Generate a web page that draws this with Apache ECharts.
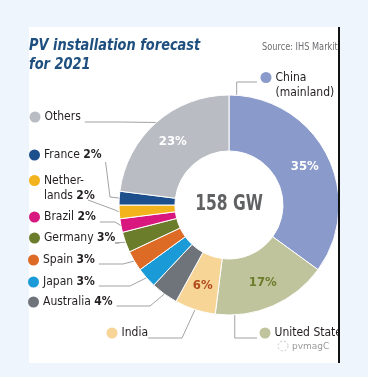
<!DOCTYPE html>
<html><head><meta charset="utf-8">
<script src="https://cdn.jsdelivr.net/npm/echarts@6/dist/echarts.min.js"></script>
<style>html,body{margin:0;padding:0;background:#eef5fd;}#c{width:368px;height:377px;}</style>
</head><body><div id="c"></div>
<script>
// ---- data ----
const categories = ['China (mainland)', 'United States', 'India', 'Australia', 'Japan', 'Spain', 'Germany', 'Brazil', 'Netherlands', 'France', 'Others'];
const shares = [35, 17, 6, 4, 3, 3, 3, 2, 2, 2, 23];
const labelNames = ['China\n(mainland)', 'United States', 'India', 'Australia', 'Japan', 'Spain', 'Germany', 'Brazil', 'Nether-\nlands', 'France', 'Others'];
const pctOutside = [false, false, false, true, true, true, true, true, true, true, false];
const pctInside = [true, true, true, false, false, false, false, false, false, false, true];
const totalText = '158 GW';
const titleText = 'PV installation forecast\nfor 2021';
const sourceText = 'Source: IHS Markit';

// ---- styles / layout ----
const colors = ['#8a9bcb', '#c0c49c', '#f7d596', '#6f747a', '#1a9bd8', '#de6b25', '#6b7c2b', '#d8187e', '#f2b31c', '#1c4f8c', '#b9bcc3'];
const insideColors = ['#ffffff', '#6b7c2b', '#b24a1d', '', '', '', '', '', '', '', '#ffffff'];
const FONT = "'DejaVu Sans Condensed','Liberation Sans Narrow',sans-serif";
const CX = 229, CY = 205, R_IN = 54, R_OUT = 110;
const total = shares.reduce((a, b) => a + b, 0);
function outerPoint(deg) { const a = deg * Math.PI / 180; return [CX + R_OUT * Math.sin(a), CY - R_OUT * Math.cos(a)]; }
function midDeg(i) { let s = 0; for (let k = 0; k < i; k++) s += shares[k]; return (s + shares[i] / 2) / total * 360; }
const spots = [
  {x: 260.5, y: 85}, {x: 259.5, y: 333}, {x: 106.5, y: 333},
  {x: 28, y: 302}, {x: 28, y: 282}, {x: 28, y: 260}, {x: 29, y: 238},
  {x: 29, y: 217}, {x: 29, y: 188}, {x: 29, y: 155}, {x: 29.5, y: 117}
];
function route(i, labelRight) {
  const S = outerPoint(midDeg(i));
  switch (i) {
    case 0: { const P = outerPoint(4); return [P, [P[0], 82], [257, 82]]; }
    case 1: { const P = outerPoint(177); return [P, [P[0], 338], [257, 338]]; }
    case 2: return [S, [182, 338], [148, 338]];
    case 3: return [S, [150, 306], [labelRight, 306]];
    case 4: return [S, [130, 286], [labelRight, 286]];
    case 5: return [S, [123, 264], [labelRight, 264]];
    case 6: return [S, [115, 243], [labelRight, 243]];
    case 7: return [S, [115, 222], [labelRight, 222]];
    case 8: return [S, [115, 210], [labelRight, 200]];
    case 9: return [S, [110, 197], [labelRight, 162]];
    default: return [S, [120, 122], [labelRight, 122]];
  }
}
function outsideText(i) {
  const lines = labelNames[i].split('\n');
  let out = '{dot|}{g|}{n|' + lines[0] + (lines.length === 1 && pctOutside[i] ? ' ' : '') + '}';
  if (lines.length === 1 && pctOutside[i]) out += '{p|' + shares[i] + '%}';
  if (lines.length > 1) {
    out += '\n{ind|}{n|' + lines[1] + (pctOutside[i] ? ' ' : '') + '}';
    if (pctOutside[i]) out += '{p|' + shares[i] + '%}';
  }
  return out;
}

const outerData = categories.map((c, i) => ({
  name: c, value: shares[i],
  label: {
    formatter: outsideText(i),
    rich: {
      dot: {width: 11, height: 11, borderRadius: 5.5, backgroundColor: colors[i]},
      g: {width: 4},
      ind: {width: 15},
      n: {fontFamily: FONT, fontSize: 12, color: '#231f20', lineHeight: 15},
      p: {fontFamily: FONT, fontSize: 12, fontWeight: 'bold', color: '#231f20', lineHeight: 15}
    }
  }
}));
const innerData = categories.map((c, i) => ({
  name: c, value: shares[i],
  itemStyle: {color: colors[i]},
  label: {show: pctInside[i], color: insideColors[i] || '#fff'}
}));

const chart = echarts.init(document.getElementById('c'), null, {renderer: 'canvas'});
chart.setOption({
  animation: false,
  backgroundColor: '#eef5fd',
  graphic: [
    {type: 'rect', shape: {x: 29, y: 27, width: 309, height: 336}, style: {fill: '#ffffff'}, z: -10, silent: true},
    {type: 'rect', shape: {x: 340, y: 20, width: 28, height: 350}, style: {fill: '#eef5fd'}, z: 10, silent: true},
    {type: 'rect', shape: {x: 338, y: 27, width: 2, height: 336}, style: {fill: '#111111'}, z: 11, silent: true},
    {type: 'text', x: 29, y: 36, scaleX: 0.9, style: {text: titleText, fontFamily: FONT, fontSize: 16, fontWeight: 'bold', fontStyle: 'italic', fill: '#1e4f7f', lineHeight: 19}},
    {type: 'text', x: 262, y: 47, scaleX: 0.87, style: {text: sourceText, fontFamily: FONT, fontSize: 10.5, fill: '#6d6e71', verticalAlign: 'middle'}},
    {type: 'text', x: CX, y: CY, scaleX: 0.74, style: {text: totalText, fontFamily: "'DejaVu Sans',sans-serif", fontSize: 21, fontWeight: 'bold', fill: '#606163', align: 'center', verticalAlign: 'middle'}},
    {type: 'circle', shape: {cx: 283, cy: 346, r: 5}, style: {fill: 'none', stroke: '#c8c8c8', lineWidth: 1, lineDash: [2, 2]}},
    {type: 'text', x: 292, y: 347, style: {text: 'pvmagC', fontFamily: 'DejaVu Sans', fontSize: 9, fill: '#9a9a9a', verticalAlign: 'middle'}}
  ],
  series: [
    {
      type: 'pie', center: [CX, CY], radius: [R_IN, R_OUT], startAngle: 90, clockwise: true,
      avoidLabelOverlap: false, silent: true,
      itemStyle: {borderColor: '#ffffff', borderWidth: 1},
      label: {position: 'inside', formatter: '{c}%', fontFamily: FONT, fontSize: 13, fontWeight: 'bold'},
      labelLine: {show: false},
      emphasis: {disabled: true},
      data: innerData
    },
    {
      type: 'pie', center: [CX, CY], radius: [R_IN, R_OUT], startAngle: 90, clockwise: true,
      avoidLabelOverlap: false, silent: true,
      itemStyle: {color: 'rgba(0,0,0,0)', borderWidth: 0},
      label: {show: true, position: 'outside'},
      labelLine: {show: true, length: 10, length2: 10, lineStyle: {color: '#8a8a8a', width: 0.8}},
      emphasis: {disabled: true},
      labelLayout: function (params) {
        const i = params.dataIndex;
        const sp = spots[i];
        const right = sp.x + params.labelRect.width + 4;
        return {x: sp.x, y: sp.y, align: 'left', verticalAlign: 'middle', labelLinePoints: route(i, right)};
      },
      data: outerData
    }
  ]
});
</script></body></html>
